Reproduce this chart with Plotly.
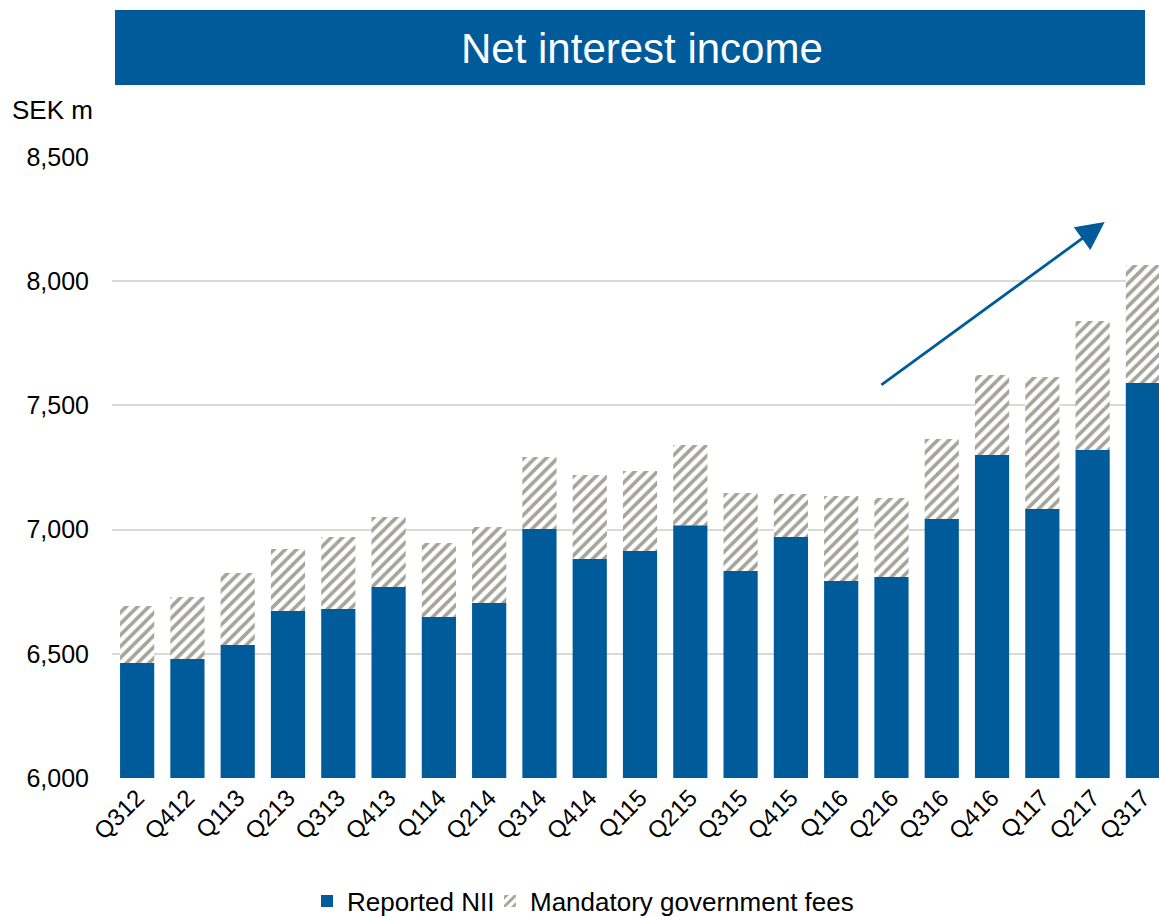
import plotly.graph_objects as go

quarters = ["Q312", "Q412", "Q113", "Q213", "Q313", "Q413", "Q114", "Q214",
            "Q314", "Q414", "Q115", "Q215", "Q315", "Q415", "Q116", "Q216",
            "Q316", "Q416", "Q117", "Q217", "Q317"]
reported_nii = [6463, 6479, 6535, 6672, 6680, 6769, 6648, 6705,
                7002, 6882, 6914, 7018, 6833, 6970, 6793, 6809,
                7043, 7300, 7083, 7320, 7590]
total_nii = [6692, 6729, 6825, 6922, 6970, 7051, 6946, 7010,
             7292, 7220, 7236, 7341, 7147, 7143, 7135, 7127,
             7365, 7622, 7614, 7840, 8065]
gov_fees = [t - r for t, r in zip(total_nii, reported_nii)]

BLUE = "#005b9b"
HATCH = "#a4a49b"
FONT = "Liberation Sans, Arial, sans-serif"

W, H = 1159, 916
L, R, T, B = 112, 0, 157, 138
pw, ph = W - L - R, H - T - B

fig = go.Figure()
fig.add_trace(go.Bar(
    x=quarters, y=[v - 6000 for v in reported_nii], base=6000,
    name="Reported NII", marker=dict(color=BLUE, line=dict(width=0)),
    legend="legend",
))
fig.add_trace(go.Bar(
    x=quarters, y=gov_fees, base=reported_nii,
    name="Mandatory government fees",
    marker=dict(color="white", line=dict(width=0),
                pattern=dict(shape="/", fgcolor=HATCH, bgcolor="white",
                             size=8, solidity=0.45, fillmode="replace")),
    legend="legend2",
))

# title banner
fig.add_shape(type="rect", xref="paper", yref="paper",
              x0=(115 - L) / pw, x1=(1145 - L) / pw,
              y0=(H - B - 85) / ph, y1=(H - B - 10) / ph,
              fillcolor=BLUE, line=dict(width=0), layer="above")
fig.add_annotation(xref="paper", yref="paper",
                   x=(642 - L) / pw, y=(H - B - 48) / ph,
                   text="Net interest income", showarrow=False,
                   font=dict(family=FONT, size=42, color="white"),
                   xanchor="center", yanchor="middle")

# unit label
fig.add_annotation(xref="paper", yref="paper",
                   x=(10 - L) / pw, y=(H - B - 110) / ph,
                   text="SEK m", showarrow=False,
                   font=dict(family=FONT, size=26, color="black"),
                   xanchor="left", yanchor="middle")

# growth arrow
fig.add_annotation(x=19.24, y=8238, ax=14.77, ay=7578,
                   xref="x", yref="y", axref="x", ayref="y",
                   text="", showarrow=True, arrowhead=2, arrowsize=2.0,
                   arrowwidth=2.8, arrowcolor=BLUE)

legend_style = dict(orientation="h", xanchor="left",
                    y=(H - B - 901) / ph, yanchor="middle",
                    font=dict(family=FONT, size=26, color="black"),
                    itemwidth=30, bgcolor="rgba(0,0,0,0)")

fig.update_layout(
    width=W, height=H,
    margin=dict(l=L, r=R, t=T, b=B, pad=0, autoexpand=False),
    barmode="overlay", bargap=0.32,
    plot_bgcolor="white", paper_bgcolor="white",
    font=dict(family=FONT, size=25, color="black"),
    showlegend=True,
    legend=dict(x=(307 - L) / pw, **legend_style),
    legend2=dict(x=(490 - L) / pw, **legend_style),
    xaxis=dict(type="category", range=[-0.5, 20.32], tickangle=-45,
               tickfont=dict(family=FONT, size=24), showgrid=False,
               showline=False, ticks="", zeroline=False, automargin=False),
    yaxis=dict(range=[6000, 8500], tickvals=[6000, 6500, 7000, 7500, 8000, 8500],
               tickformat=",", tickfont=dict(family=FONT, size=25),
               showgrid=True, gridcolor="#d9d9d6", gridwidth=2,
               zeroline=False, showline=False, ticks="", ticklabelstandoff=22,
               automargin=False),
)

fig.write_html("out.html")
